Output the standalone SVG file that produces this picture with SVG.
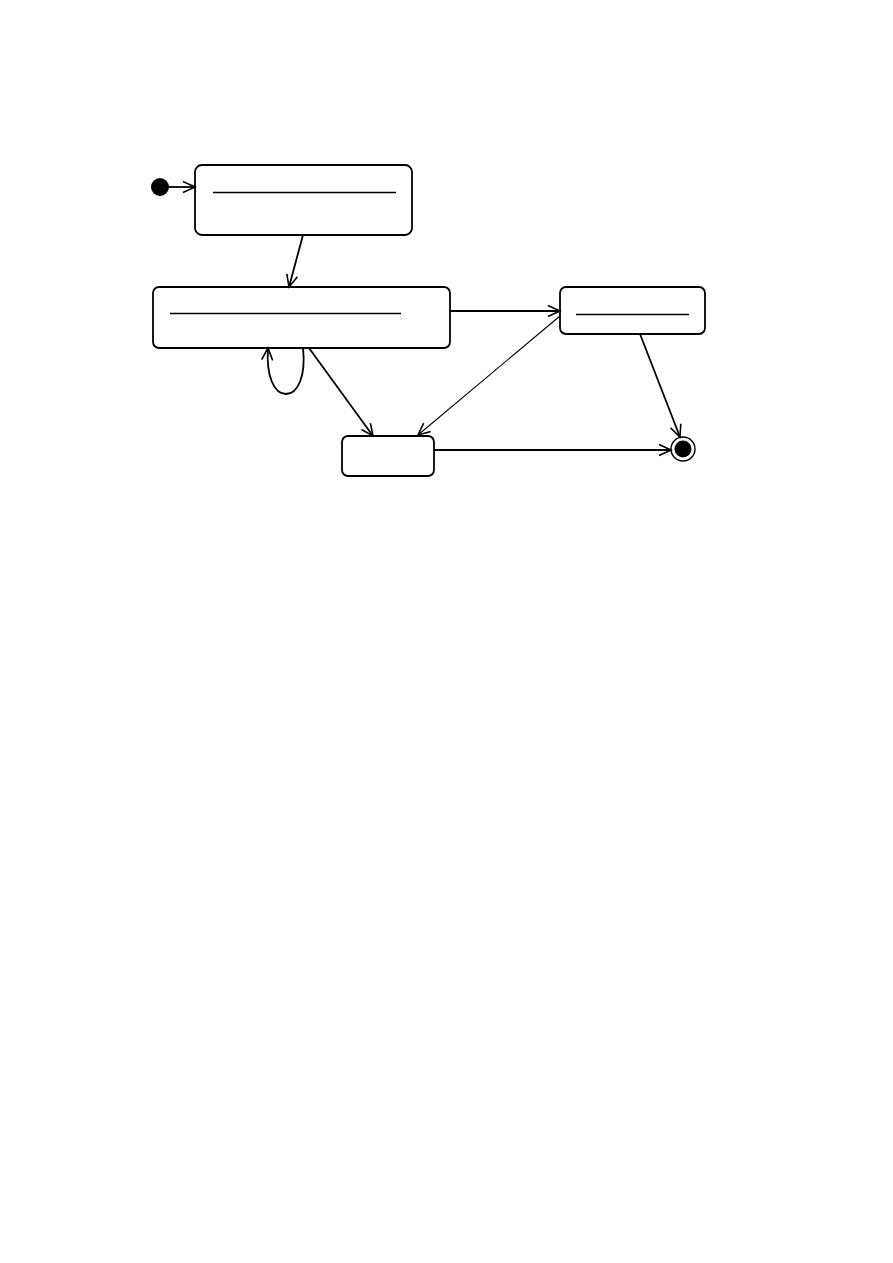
<svg xmlns="http://www.w3.org/2000/svg" width="893" height="1263" viewBox="0 0 893 1263">
<style>
.state{fill:#fff;stroke:#000;stroke-width:1.8}
.div{stroke:#000;stroke-width:1.3}
.conn{fill:none;stroke:#000;stroke-width:1.8}
.thin{fill:none;stroke:#000;stroke-width:1.1}
</style>
<defs>
<marker id="open" markerWidth="16" markerHeight="16" refX="14" refY="8" orient="auto" markerUnits="userSpaceOnUse">
<path d="M2,2.5 L14,8 L2,13.5" fill="none" stroke="#000" stroke-width="1.6"/>
</marker>
</defs>
<rect width="893" height="1263" fill="#fff"/>
<g id="initial"><circle cx="160" cy="187" r="9" fill="#000"/></g>
<g id="state1"><rect class="state" x="195" y="165" width="217" height="70" rx="7"/><line class="div" x1="213" y1="192.5" x2="396" y2="192.5"/></g>
<g id="state2"><rect class="state" x="153" y="287" width="297" height="61" rx="6"/><line class="div" x1="170" y1="313.5" x2="401" y2="313.5"/></g>
<g id="state3"><rect class="state" x="560" y="287" width="145" height="47" rx="6"/><line class="div" x1="576" y1="314.5" x2="689" y2="314.5"/></g>
<g id="state4"><rect class="state" x="342" y="436" width="92" height="40" rx="6"/></g>
<g id="final"><circle cx="683" cy="449" r="12" fill="#fff" stroke="#000" stroke-width="1.4"/><circle cx="683" cy="449" r="8.5" fill="#000"/></g>
<g id="connectors">
<line class="conn" x1="169" y1="187" x2="195" y2="187" marker-end="url(#open)"/>
<line class="conn" x1="303" y1="235" x2="289" y2="287" marker-end="url(#open)"/>
<line class="conn" x1="450" y1="311" x2="560" y2="311" marker-end="url(#open)"/>
<line class="thin" x1="560" y1="316" x2="418" y2="435" marker-end="url(#open)"/>
<line class="conn" x1="309" y1="348" x2="373" y2="436" marker-end="url(#open)"/>
<path class="conn" d="M303,348 C306,376 298,394 286,394 C274,394 266,376 268,348" marker-end="url(#open)"/>
<line class="conn" x1="640" y1="334" x2="680" y2="437" marker-end="url(#open)"/>
<line class="conn" x1="434" y1="450" x2="671" y2="450" marker-end="url(#open)"/>
</g>
</svg>
